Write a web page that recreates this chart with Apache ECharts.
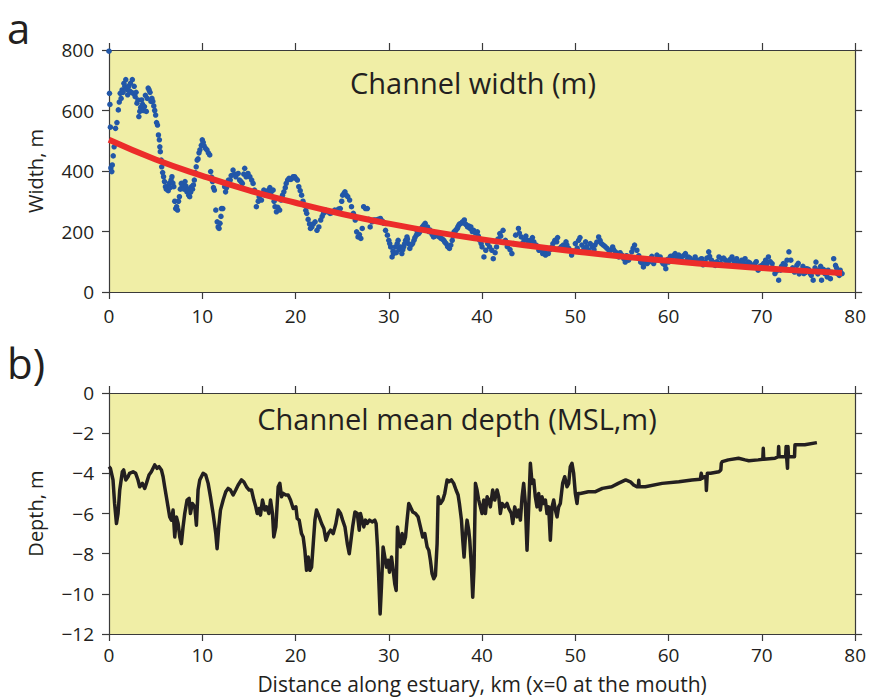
<!DOCTYPE html>
<html lang="en">
  <head>
    <meta charset="UTF-8" />
    <title>Channel width and depth</title>
    <script src="https://cdn.jsdelivr.net/npm/echarts@6/dist/echarts.min.js"></script>
    <style>
      html, body { margin: 0; padding: 0; background: #fff; }
      #chart { width: 869px; height: 700px; }
    </style>
  </head>
  <body>
    <div id="chart"></div>
    <script>
      // x ticks shared by both panels (km)
      const xTicks = [0, 10, 20, 30, 40, 50, 60, 70, 80];
      const widthTicks = [0, 200, 400, 600, 800];
      const depthTicks = [-12, -10, -8, -6, -4, -2, 0];

      // panel a: measured channel width, [km, m]
      const widthPts = [
        [0,796],[0.05,657],[0.1,620],[0.15,545],[0.2,410],[0.3,398],[0.35,420],[0.45,450],[0.55,480],[0.7,541],
        [0.85,560],[1.0,602],[1.1,628],[1.2,657],[1.3,640],[1.4,668],[1.5,660],[1.6,690],[1.7,680],[1.8,702],
        [1.9,670],[2.0,652],[2.1,680],[2.2,665],[2.3,690],[2.4,660],[2.5,702],[2.6,657],[2.7,680],[2.8,646],
        [2.9,660],[3.0,624],[3.1,635],[3.2,580],[3.3,597],[3.4,610],[3.5,635],[3.6,620],[3.7,600],[3.8,613],
        [3.9,650],[4.0,597],[4.1,640],[4.2,674],[4.3,668],[4.4,660],[4.5,630],[4.6,640],[4.7,630],[4.8,615],
        [4.9,600],[5.0,585],[5.1,560],[5.2,552],[5.3,519],[5.4,503],[5.45,480],[5.5,464],[5.6,436],[5.65,414],
        [5.75,395],[5.85,381],[5.95,365],[6.05,348],[6.15,340],[6.25,348],[6.35,335],[6.45,359],[6.55,345],[6.65,370],
        [6.75,381],[6.85,360],[6.95,348],[7.05,300],[7.15,276],[7.25,282],[7.35,271],[7.45,300],[7.55,315],[7.65,340],
        [7.75,359],[7.85,348],[7.95,355],[8.05,340],[8.15,365],[8.25,350],[8.35,331],[8.45,340],[8.55,320],[8.65,315],
        [8.75,330],[8.85,348],[8.95,340],[9.05,354],[9.15,370],[9.25,395],[9.35,414],[9.45,436],[9.55,440],[9.65,460],
        [9.75,470],[9.9,485],[10.0,503],[10.1,495],[10.2,483],[10.35,475],[10.5,470],[10.65,460],[10.8,453],[10.9,398],
        [11.0,380],[11.1,365],[11.2,345],[11.3,337],[11.45,271],[11.6,232],[11.7,215],[11.8,210],[11.9,227],[12.0,250],
        [12.05,276],[12.2,276],[12.4,348],[12.5,331],[12.6,345],[12.8,370],[13.0,370],[13.1,385],[13.3,403],[13.45,390],
        [13.6,381],[13.85,392],[14.0,370],[14.15,365],[14.3,359],[14.45,390],[14.55,409],[14.7,381],[14.9,392],[15.1,381],
        [15.3,370],[15.45,359],[15.6,337],[15.8,282],[16.0,300],[16.1,315],[16.35,304],[16.6,337],[16.75,320],[16.9,326],
        [17.1,337],[17.25,345],[17.4,331],[17.6,337],[17.7,300],[17.8,282],[17.95,265],[18.1,280],[18.3,271],[18.45,304],
        [18.6,320],[18.75,331],[18.9,345],[19.0,359],[19.15,370],[19.3,376],[19.5,372],[19.6,376],[19.75,381],[19.9,381],
        [20.05,375],[20.2,370],[20.35,348],[20.5,335],[20.65,320],[20.8,300],[20.95,287],[21.1,270],[21.2,260],[21.35,240],
        [21.5,225],[21.6,210],[21.75,215],[21.9,225],[22.1,232],[22.3,204],[22.5,215],[22.7,238],[22.85,250],[23.0,260],
        [23.2,271],[23.45,265],[23.7,260],[23.85,262],[24.0,265],[24.2,271],[24.4,268],[24.6,274],[24.8,276],[24.95,300],
        [25.05,320],[25.2,326],[25.3,331],[25.45,320],[25.6,315],[25.8,304],[26.0,282],[26.2,260],[26.4,238],[26.55,199],
        [26.7,182],[26.85,190],[27.0,177],[27.15,210],[27.3,282],[27.5,276],[27.7,276],[27.85,240],[28.0,215],[28.2,232],
        [28.4,238],[28.6,238],[28.85,240],[29.1,243],[29.3,235],[29.46,227],[29.65,204],[29.85,188],[30.0,171],[30.2,149],
        [30.35,116],[30.5,127],[30.7,149],[30.9,160],[31.0,171],[31.25,149],[31.4,127],[31.6,150],[31.8,171],[31.95,182],
        [32.1,160],[32.25,144],[32.4,155],[32.7,171],[32.95,188],[33.2,193],[33.4,204],[33.6,215],[33.75,220],[33.9,227],
        [34.15,215],[34.4,205],[34.5,199],[34.8,182],[35.1,188],[35.25,188],[35.6,177],[35.9,171],[36.15,160],[36.5,144],
        [36.8,171],[37.0,199],[37.2,205],[37.35,210],[37.5,221],[37.75,227],[38.1,238],[38.35,221],[38.6,218],[38.8,215],
        [39.1,204],[39.5,199],[39.75,171],[40.0,149],[40.2,116],[40.4,138],[40.8,149],[41.05,138],[41.2,110],[41.4,130],
        [41.55,149],[41.9,193],[42.25,204],[42.5,171],[42.85,160],[43.2,127],[43.4,160],[43.6,188],[43.9,210],[44.2,182],
        [44.5,171],[44.85,171],[45.2,171],[45.55,166],[45.8,155],[46.1,138],[46.5,127],[46.8,122],[47.1,127],[47.5,149],
        [47.8,171],[48.0,166],[48.3,144],[48.7,155],[49.0,166],[49.3,144],[49.6,122],[50.0,160],[50.35,171],[50.7,155],
        [51.1,166],[51.4,138],[51.8,149],[52.1,155],[52.5,182],[52.65,171],[53.0,155],[53.4,144],[53.75,138],[54.0,149],
        [54.3,133],[54.65,116],[55.0,122],[55.35,99],[55.7,105],[56.05,133],[56.35,155],[56.6,138],[57.0,99],[57.3,83],
        [57.7,94],[58.05,110],[58.4,94],[58.75,122],[59.1,116],[59.4,94],[59.7,77],[60.0,99],[60.35,110],[60.7,127],
        [61.1,122],[61.4,105],[61.8,127],[62.1,116],[62.5,105],[62.85,116],[63.2,99],[63.55,110],[63.9,99],[64.3,133],
        [64.6,105],[65.0,88],[65.4,116],[65.7,110],[66.1,105],[66.4,99],[66.8,116],[67.1,94],[67.5,99],[67.85,105],
        [68.2,110],[68.55,99],[68.9,83],[69.25,94],[69.6,72],[70.0,88],[70.4,105],[70.7,116],[71.1,94],[71.4,61],
        [71.8,39],[72.0,72],[72.3,94],[72.7,105],[72.9,133],[73.1,105],[73.5,66],[73.75,88],[74.2,72],[74.5,61],
        [74.8,77],[75.2,61],[75.5,39],[75.8,99],[76.1,72],[76.4,39],[76.75,61],[77.1,72],[77.35,44],[77.7,110],
        [77.9,88],[78.1,61],[78.4,72],[78.6,61],
        // second pass over the wider part of the band
        [30.1,160],[30.45,135],[30.8,130],[31.1,140],[31.5,140],[31.7,160],[32.0,175],[32.55,160],[32.8,180],[33.05,200],
        [33.3,198],[33.5,210],[33.8,222],[34.0,210],[34.3,200],[34.65,190],[34.95,185],[35.4,182],[35.75,175],[36.0,165],
        [36.3,150],[36.65,155],[36.9,185],[37.1,200],[37.4,215],[37.6,225],[37.9,232],[38.2,225],[38.45,215],[38.7,210],
        [38.95,200],[39.3,195],[39.6,185],[39.9,160],
        [40.6,160],[41.7,175],[42.0,185],[42.7,150],[43.0,140],[44.0,195],[44.3,160],[44.7,185],[45.0,160],[45.4,180],
        [46.0,150],[46.3,140],[46.7,135],[47.3,140],[47.6,160],[48.1,180],[48.5,150],[48.9,140],[49.1,155],[49.8,135],
        [50.2,145],[50.5,180],[50.9,140],[51.2,150],[51.6,160],[52.0,140],[52.3,165],[52.8,160],[53.2,150],[53.6,130],
        [54.1,140],[54.5,125],[54.8,130],[55.2,110],[55.5,120],[55.9,115],[56.2,145],[56.8,120],[57.2,95],[57.5,105],
        [57.9,100],[58.2,118],[58.6,105],[58.9,110],[59.3,100],[59.6,90],[59.9,108],[60.2,118],[60.5,120],[60.9,112],
        [61.2,110],[61.6,120],[62.0,108],[62.3,112],[62.7,95],[63.0,105],[63.4,108],[63.7,90],[64.1,112],[64.4,118],
        [64.8,98],[65.2,100],[65.6,95],[65.9,112],[66.2,92],[66.6,108],[67.0,102],[67.3,110],[67.7,90],[68.0,100],
        [68.4,92],[68.7,96],[69.1,88],[69.4,100],[69.8,85],[70.2,95],[70.5,92],[70.9,100],[71.2,80],[71.6,70],
        [72.1,85],[72.5,90],[73.3,80],[73.9,95],[74.0,60],[74.4,85],[74.7,65],[75.0,75],[75.3,55],[75.7,80],
        [76.0,60],[76.3,85],[76.6,75],[77.0,50],[77.5,65],[78.0,80],[78.3,55]
      ];

      // panel a: fitted trend
      const fitKm = [0, 5, 10, 15, 20, 25, 30, 35, 40, 45, 50, 55, 60, 65, 70, 75, 78.6];
      const fitWidth = [503, 438, 384, 336, 295, 258, 226, 198, 174, 153, 134, 117, 103, 90, 79, 69, 63];

      // panel b: channel mean depth, [km, m MSL]
      const depthPts = [
        [0,-3.67],[0.15,-3.75],[0.43,-4.33],[0.6,-5.5],[0.8,-6.5],[0.97,-6.0],[1.15,-4.83],[1.43,-3.92],[1.57,-3.83],[1.8,-4.33],
        [2.04,-4.17],[2.2,-4.0],[2.58,-3.92],[2.86,-4.0],[3.11,-4.33],[3.29,-4.67],[3.58,-4.5],[3.83,-4.75],[4.01,-4.5],[4.29,-4.08],
        [4.54,-3.92],[4.9,-3.58],[5.15,-3.75],[5.37,-3.67],[5.62,-3.83],[5.8,-4.17],[5.97,-4.67],[6.15,-5.17],[6.33,-5.67],[6.51,-6.17],
        [6.69,-6.33],[6.87,-5.83],[7.05,-7.17],[7.23,-6.17],[7.41,-6.5],[7.59,-7.17],[7.76,-7.5],[7.94,-6.67],[8.12,-6.0],[8.37,-5.33],
        [8.59,-5.25],[8.73,-6.0],[8.94,-5.5],[9.2,-5.67],[9.37,-6.58],[9.55,-4.83],[9.73,-4.33],[10.09,-4.0],[10.37,-4.08],[10.63,-4.5],
        [10.88,-5.17],[11.16,-6.0],[11.45,-7.0],[11.59,-7.75],[11.77,-6.67],[11.95,-5.83],[12.24,-5.33],[12.52,-4.92],[12.77,-4.75],[13.02,-4.83],
        [13.31,-5.08],[13.59,-4.83],[13.85,-4.58],[14.2,-4.33],[14.45,-4.42],[14.74,-4.67],[15.03,-4.83],[15.28,-4.83],[15.53,-5.33],[15.74,-5.67],
        [15.89,-6.0],[16.1,-5.75],[16.24,-6.08],[16.46,-5.33],[16.71,-5.83],[16.89,-5.67],[17.14,-6.0],[17.32,-5.33],[17.53,-6.0],[17.67,-7.17],
        [17.89,-6.67],[18.14,-4.67],[18.32,-4.5],[18.5,-5.17],[18.68,-5.0],[18.96,-5.08],[19.21,-5.08],[19.46,-5.33],[19.75,-5.75],[20.04,-5.67],
        [20.18,-6.25],[20.39,-6.33],[20.64,-7.0],[20.82,-7.17],[21.0,-7.83],[21.18,-8.83],[21.36,-8.17],[21.54,-8.83],[21.72,-8.67],[21.9,-7.5],
        [22.08,-6.33],[22.25,-5.83],[22.54,-6.17],[22.79,-6.5],[23.04,-6.75],[23.26,-7.33],[23.51,-7.0],[23.76,-6.83],[24.04,-7.0],[24.33,-6.5],
        [24.58,-5.83],[24.83,-6.0],[25.05,-6.33],[25.3,-6.67],[25.55,-7.5],[25.76,-8.0],[25.9,-7.5],[26.12,-6.67],[26.37,-5.92],[26.62,-6.0],
        [26.83,-6.83],[26.96,-6.0],[27.14,-6.33],[27.32,-6.67],[27.5,-6.33],[27.68,-6.5],[27.93,-6.33],[28.21,-6.42],[28.5,-6.33],[28.64,-6.5],
        [28.79,-7.67],[28.93,-9.33],[29.07,-11.0],[29.21,-9.67],[29.39,-7.67],[29.57,-8.17],[29.75,-8.67],[29.93,-8.33],[30.07,-8.92],[30.29,-8.17],
        [30.43,-8.67],[30.64,-9.5],[30.79,-9.83],[30.93,-6.67],[31.07,-7.17],[31.25,-7.67],[31.43,-7.0],[31.61,-7.5],[31.79,-7.17],[31.96,-6.33],
        [32.14,-5.5],[32.32,-5.67],[32.57,-5.92],[32.86,-6.0],[33.14,-6.17],[33.39,-6.67],[33.64,-7.17],[33.86,-7.0],[34.11,-7.67],[34.29,-7.83],
        [34.46,-8.33],[34.64,-9.0],[34.82,-9.25],[35.0,-9.08],[35.18,-7.5],[35.29,-5.17],[35.54,-5.5],[35.79,-5.33],[36.0,-5.0],[36.25,-4.33],
        [36.43,-4.42],[36.71,-4.33],[36.96,-4.5],[37.21,-4.83],[37.43,-5.08],[37.57,-5.5],[37.79,-6.33],[37.93,-7.33],[38.07,-8.17],[38.21,-7.17],
        [38.39,-6.33],[38.57,-6.83],[38.68,-7.33],[38.86,-8.67],[39.0,-10.17],[39.14,-8.67],[39.29,-4.5],[39.46,-4.83],[39.64,-5.33],[39.82,-5.67],
        [40.0,-6.0],[40.18,-5.33],[40.36,-6.0],[40.54,-5.17],[40.71,-5.33],[40.89,-5.67],[41.14,-4.83],[41.36,-5.33],[41.61,-4.83],[41.79,-5.17],
        [41.96,-6.0],[42.14,-5.5],[42.43,-5.67],[42.68,-5.5],[42.86,-5.75],[43.14,-6.0],[43.29,-6.5],[43.5,-5.67],[43.75,-6.17],[43.93,-5.83],
        [44.11,-6.33],[44.29,-5.17],[44.46,-4.5],[44.64,-5.5],[44.82,-7.83],[45.0,-5.67],[45.18,-3.5],[45.36,-4.5],[45.54,-4.33],[45.71,-5.17],
        [45.89,-5.67],[46.07,-5.0],[46.25,-5.83],[46.43,-5.17],[46.61,-5.5],[46.79,-5.33],[46.96,-6.0],[47.14,-5.67],[47.32,-7.33],[47.5,-5.67],
        [47.68,-5.33],[47.86,-5.83],[48.04,-6.17],[48.21,-5.67],[48.39,-5.5],[48.64,-4.5],[48.86,-4.17],[49.11,-4.67],[49.29,-4.5],[49.46,-3.67],
        [49.64,-3.5],[49.82,-4.0],[50.0,-5.0],[50.18,-5.5],[50.29,-5.0],[50.54,-5.0],[51.4,-4.92],[52.1,-4.92],[52.9,-4.75],[53.9,-4.67],
        [54.6,-4.5],[55.4,-4.33],[55.9,-4.42],[56.25,-4.58],[56.6,-4.67],[56.75,-4.67],[56.8,-4.35],[56.85,-4.67],[57.5,-4.67],[59.3,-4.5],
        [61.1,-4.42],[62.5,-4.33],[63.4,-4.3],[63.5,-4.0],[63.6,-4.25],[63.85,-4.17],[64.0,-4.17],[64.05,-4.85],[64.15,-4.0],[64.5,-4.0],
        [65.4,-3.92],[65.6,-3.83],[65.65,-3.5],[65.75,-3.42],[66.4,-3.33],[67.5,-3.25],[68.2,-3.33],[68.6,-3.37],[69.6,-3.33],[70.1,-3.3],
        [70.15,-2.75],[70.2,-3.3],[71.4,-3.25],[71.75,-3.17],[71.8,-2.67],[71.85,-3.17],[72.55,-3.17],[72.6,-2.67],[72.65,-3.17],[72.75,-3.75],
        [72.8,-2.67],[72.85,-3.17],[73.5,-3.17],[73.55,-2.58],[74.6,-2.58],[75.9,-2.47]
      ];

      const chart = echarts.init(document.getElementById("chart"), null, { renderer: "svg" });

      const FONT = "Open Sans";
      const INK = "#231f20";
      const AXIS = "#3a3a3a";
      const PANEL_BG = "#f0eea6";

      const minus = v => String(v).replace("-", "\u2212");

      // one set of axis styles for every frame edge
      function xAxisFor(grid, pos, labels, name, margin) {
        return {
          type: "value", gridIndex: grid, position: pos,
          min: xTicks[0], max: xTicks[xTicks.length - 1], interval: 10,
          name: name || "", nameLocation: "middle", nameGap: 39,
          nameTextStyle: { fontFamily: FONT, fontSize: 21, lineHeight: 22, color: INK },
          axisLine: { show: true, onZero: false, lineStyle: { color: AXIS, width: 1.2 } },
          axisTick: { show: true, length: 7, lineStyle: { color: AXIS, width: 1.2 } },
          axisLabel: { show: labels, margin: margin || 14, fontFamily: FONT, fontSize: 19, lineHeight: 20, color: INK },
          splitLine: { show: false }
        };
      }
      function yAxisFor(grid, pos, ticks, labels, name) {
        return {
          type: "value", gridIndex: grid, position: pos,
          min: ticks[0], max: ticks[ticks.length - 1], interval: ticks[1] - ticks[0],
          name: name || "", nameLocation: "middle", nameGap: 64,
          nameTextStyle: { fontFamily: FONT, fontSize: 20, color: INK },
          axisLine: { show: true, onZero: false, lineStyle: { color: AXIS, width: 1.2 } },
          axisTick: { show: true, length: 7, lineStyle: { color: AXIS, width: 1.2 } },
          axisLabel: { show: labels, margin: 15, fontFamily: FONT, fontSize: 19, color: INK, formatter: minus },
          splitLine: { show: false }
        };
      }

      const option = {
        backgroundColor: "#fff",
        animation: false,
        grid: [
          { left: 109, width: 747, top: 50, height: 242, show: true, backgroundColor: PANEL_BG, borderWidth: 0 },
          { left: 109, width: 747, top: 393, height: 241, show: true, backgroundColor: PANEL_BG, borderWidth: 0 }
        ],
        xAxis: [
          xAxisFor(0, "bottom", true),
          xAxisFor(0, "top", false),
          xAxisFor(1, "bottom", true, "Distance along estuary, km (x=0 at the mouth)", 11),
          xAxisFor(1, "top", false)
        ],
        yAxis: [
          yAxisFor(0, "left", widthTicks, true, "Width, m"),
          yAxisFor(0, "right", widthTicks, false),
          yAxisFor(1, "left", depthTicks, true, "Depth, m"),
          yAxisFor(1, "right", depthTicks, false)
        ],
        graphic: [
          { type: "text", x: 7, y: 6, style: { text: "a", font: "42px " + FONT, fill: INK } },
          { type: "text", x: 7, y: 341, style: { text: "b)", font: "42px " + FONT, fill: INK } },
          { type: "text", x: 473, y: 82, style: { text: "Channel width (m)", font: "29px " + FONT, fill: INK, textAlign: "center", textVerticalAlign: "middle" } },
          { type: "text", x: 457, y: 418, style: { text: "Channel mean depth (MSL,m)", font: "29px " + FONT, fill: INK, textAlign: "center", textVerticalAlign: "middle" } }
        ],
        series: [
          {
            name: "width", type: "scatter", xAxisIndex: 0, yAxisIndex: 0,
            data: widthPts, symbolSize: 5.5, clip: false,
            itemStyle: { color: "#2257a8", opacity: 1 }
          },
          {
            name: "fit", type: "line", xAxisIndex: 0, yAxisIndex: 0,
            data: fitKm.map((k, i) => [k, fitWidth[i]]),
            smooth: true, showSymbol: false,
            lineStyle: { color: "#ec2c2a", width: 6 }, z: 3
          },
          {
            name: "depth", type: "line", xAxisIndex: 2, yAxisIndex: 2,
            data: depthPts, showSymbol: false,
            lineStyle: { color: INK, width: 3.5, join: "round" }
          }
        ]
      };

      chart.setOption(option);
    </script>
  </body>
</html>
